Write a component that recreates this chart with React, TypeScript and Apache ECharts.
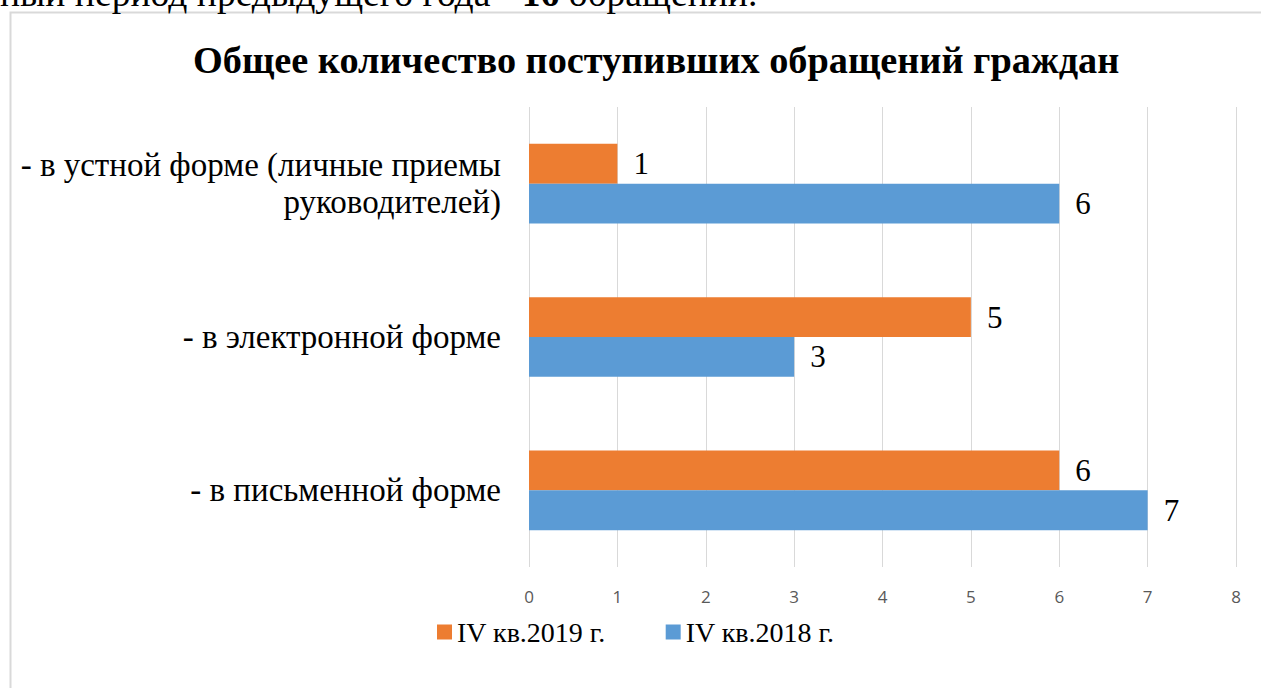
import React, { useEffect, useRef } from "react";
import * as echarts from "echarts";

const categories = [
  "- в письменной форме",
  "- в электронной форме",
  "- в устной форме (личные приемы\nруководителей)",
];
const series2018 = [7, 3, 6];
const series2019 = [6, 5, 1];
const name2018 = "IV кв.2018 г.";
const name2019 = "IV кв.2019 г.";
const xTicks = { min: 0, max: 8, interval: 1 };

export default function App() {
  const ref = useRef<HTMLDivElement>(null);
  useEffect(() => {
    document.body.style.margin = "0";
    const chart = echarts.init(ref.current!, null, { renderer: "svg" });
    const serif = "Liberation Serif";
    const barLabel = {
      show: true,
      position: "right",
      distance: 16,
      color: "#000",
      fontSize: 31,
      fontFamily: serif,
    };
    chart.setOption({
      animation: false,
      backgroundColor: "#ffffff",
      title: {
        text: "Общее количество поступивших обращений граждан",
        left: 188,
        top: 36,
        textStyle: { fontFamily: serif, fontSize: 38.3, fontWeight: "bold", color: "#000" },
      },
      legend: {
        data: [name2019, name2018],
        left: 437,
        top: 618,
        padding: 0,
        itemWidth: 15,
        itemHeight: 15,
        itemGap: 60,
        icon: "rect",
        textStyle: { fontFamily: serif, fontSize: 28, color: "#000", padding: [0, 0, 0, 0] },
      },
      grid: { left: 529, right: 25, top: 107, bottom: 121, containLabel: false },
      xAxis: {
        type: "value",
        min: xTicks.min,
        max: xTicks.max,
        interval: xTicks.interval,
        axisLine: { show: false },
        axisTick: { show: false },
        splitLine: { show: true, lineStyle: { color: "#d9d9d9", width: 1 } },
        axisLabel: { color: "#595959", fontSize: 17, fontFamily: "Open Sans", margin: 21 },
      },
      yAxis: {
        type: "category",
        data: categories,
        axisLine: { show: false },
        axisTick: { show: false },
        axisLabel: {
          color: "#000",
          fontSize: 33,
          fontFamily: serif,
          margin: 28,
          lineHeight: 37,
          align: "right",
        },
      },
      series: [
        {
          name: name2019,
          type: "bar",
          data: series2019,
          itemStyle: { color: "#ED7D31" },
          barGap: "0%",
          barCategoryGap: "48%",
          label: barLabel,
        },
        {
          name: name2018,
          type: "bar",
          data: series2018,
          itemStyle: { color: "#5B9BD5" },
          barGap: "0%",
          barCategoryGap: "48%",
          label: barLabel,
        },
      ],
      graphic: [
        {
          type: "rect",
          shape: { x: 10.5, y: 12.5, width: 1400, height: 900 },
          style: { fill: "none", stroke: "#d9d9d9", lineWidth: 2 },
          z: -1,
        },
        {
          type: "text",
          x: 0,
          y: 12,
          style: {
            text: "{n|ный период предыдущего года - }{b|16}{n| обращений.}",
            verticalAlign: "bottom",
            rich: {
              n: { fontFamily: serif, fontSize: 37.6, color: "#000" },
              b: { fontFamily: serif, fontSize: 37.6, fontWeight: "bold", color: "#000" },
            },
          },
        },
      ],
    });
    return () => chart.dispose();
  }, []);
  return <div ref={ref} style={{ width: 1261, height: 688 }} />;
}
